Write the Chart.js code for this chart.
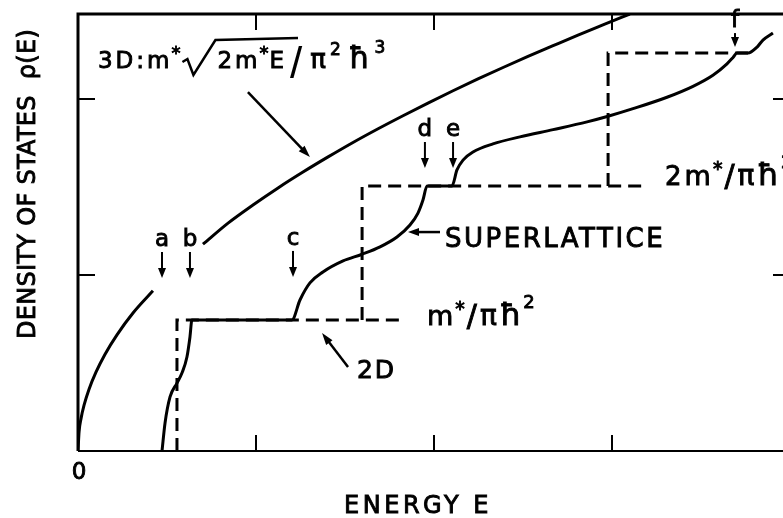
<!DOCTYPE html>
<html>
<head>
<meta charset="utf-8">
<script src="https://cdn.jsdelivr.net/npm/chart.js@4/dist/chart.umd.min.js"></script>
<style>
  html, body { margin: 0; padding: 0; background: #fff; overflow: hidden; }
  #wrap { width: 800px; height: 518px; }
</style>
</head>
<body>
<div id="wrap"><canvas id="dos" width="800" height="518"></canvas></div>
<script>
// Density of states: 3D bulk, 2D steps, superlattice
// energy in units of the axis tick spacing, density in units of the left ticks

const energyTicks = [1, 2, 3];
const densityTicks = [1, 2];

// bulk 3D curve (broken between a and b)
const bulkLowE   = [0, 0.006, 0.017, 0.034, 0.062, 0.101, 0.152, 0.219, 0.309, 0.421];
const bulkLowRho = [0, 0.109, 0.184, 0.260, 0.351, 0.448, 0.550, 0.660, 0.784, 0.910];
const bulkHighE   = [0.702, 0.843, 0.983, 1.124, 1.264, 1.405, 1.545, 1.686, 1.826, 1.966,
  2.107, 2.247, 2.388, 2.528, 2.669, 2.809, 2.949, 3.100];
const bulkHighRho = [1.175, 1.295, 1.398, 1.495, 1.585, 1.671, 1.753, 1.831, 1.905, 1.977,
  2.047, 2.114, 2.179, 2.242, 2.303, 2.363, 2.421, 2.483];

// 2D staircase, one corner per subband
const stepE   = [[0.556, 0.556, 1.826], [1.596, 1.596, 3.174], [2.978, 2.978, 3.764]];
const stepRho = [[0, 0.745, 0.745], [0.745, 1.506, 1.506], [1.506, 2.261, 2.261]];

// superlattice curve
const slE = [0.472, 0.489, 0.517, 0.556, 0.584, 0.612, 0.629, 0.640, 1.202, 1.247, 1.303, 1.376,
  1.489, 1.596, 1.697, 1.792, 1.865, 1.910, 1.938, 1.961, 2.101, 2.129, 2.163, 2.219, 2.331,
  2.483, 2.669, 2.860, 2.978, 3.118, 3.309, 3.455, 3.567, 3.646, 3.680, 3.702, 3.764, 3.815,
  3.848, 3.904];
const slRho = [0, 0.159, 0.307, 0.386, 0.443, 0.534, 0.648, 0.745, 0.745, 0.858, 0.955, 1.017,
  1.080, 1.118, 1.160, 1.216, 1.284, 1.352, 1.426, 1.506, 1.506, 1.597, 1.653, 1.699, 1.745,
  1.785, 1.826, 1.870, 1.902, 1.945, 2.010, 2.072, 2.135, 2.200, 2.236, 2.261, 2.261, 2.295,
  2.335, 2.375];

// lettered arrows: where each tip lands
const markLetters = ['a', 'b', 'c', 'd', 'e', 'f'];
const markE   = [0.472, 0.629, 1.208, 1.949, 2.107, 3.691];
const markRho = [0.983, 0.983, 0.989, 1.608, 1.608, 2.295];

const FONT = '"DejaVu Sans", sans-serif';
const pts = (xs, ys) => xs.map((v, i) => ({ x: v, y: ys[i] }));

const solid = (data) => ({
  data, borderColor: '#000', borderWidth: 3, pointRadius: 0,
  cubicInterpolationMode: 'monotone', fill: false
});
const dashed = (data) => ({
  data, borderColor: '#000', borderWidth: 3, pointRadius: 0,
  borderDash: [13, 7], tension: 0, fill: false
});

function line(ctx, x1, y1, x2, y2) {
  ctx.beginPath(); ctx.moveTo(x1, y1); ctx.lineTo(x2, y2); ctx.stroke();
}

function arrow(ctx, x1, y1, x2, y2, len = 10, half = 4) {
  const a = Math.atan2(y2 - y1, x2 - x1);
  const c = Math.cos(a), s = Math.sin(a);
  line(ctx, x1, y1, x2 - c * len * 0.6, y2 - s * len * 0.6);
  ctx.beginPath();
  ctx.moveTo(x2, y2);
  ctx.lineTo(x2 - c * len - s * half, y2 - s * len + c * half);
  ctx.lineTo(x2 - c * len + s * half, y2 - s * len - c * half);
  ctx.closePath(); ctx.fill();
}

// inked text: fill plus a thin stroke so it reads as heavy as the pen lettering
function ink(ctx, t, x, y, weight = 0.9) {
  const lw = ctx.lineWidth;
  ctx.lineWidth = weight;
  ctx.fillText(t, x, y);
  if (weight > 0) ctx.strokeText(t, x, y);
  ctx.lineWidth = lw;
}

// draws a run of text and returns where it ends
function run(ctx, t, size, x, y, spacing = 1.5, family = FONT, weight = 0.9) {
  ctx.font = `${size}px ${family}`;
  ctx.letterSpacing = spacing + 'px';
  ink(ctx, t, x, y, weight);
  return x + ctx.measureText(t).width;
}

function massOverArea(ctx, x, y, two) {
  if (two) x = run(ctx, '2', 26, x, y, 3);
  x = run(ctx, 'm', 27, x, y, 3);
  x = run(ctx, '*', 19, x - 1, y - 10, 2);
  x = run(ctx, '/', 30, x, y + 1, 3);
  x = run(ctx, 'π', 28, x, y, 3);
  x = run(ctx, 'ħ', 31, x, y, 1);
  run(ctx, '2', 18, x + 1, y - 17, 0);
}

const inkPlugin = {
  id: 'ink',
  afterDatasetsDraw(chart) {
    const { ctx, chartArea: a, scales: { x, y } } = chart;
    const px = (v) => x.getPixelForValue(v);
    const py = (v) => y.getPixelForValue(v);
    ctx.save();
    ctx.strokeStyle = '#000';
    ctx.fillStyle = '#000';
    ctx.lineCap = 'butt';

    // frame
    ctx.lineWidth = 3;
    ctx.beginPath();
    ctx.moveTo(a.left, a.bottom); ctx.lineTo(a.left, a.top);
    ctx.lineTo(a.right, a.top); ctx.lineTo(a.right, a.bottom);
    ctx.stroke();
    ctx.lineWidth = 2;
    line(ctx, a.left, a.bottom, a.right, a.bottom);

    // inward ticks on all four sides
    energyTicks.forEach(v => {
      line(ctx, px(v), a.bottom, px(v), a.bottom - 16);
      line(ctx, px(v), a.top, px(v), a.top + 16);
    });
    densityTicks.forEach(v => {
      line(ctx, a.left, py(v), a.left + 17, py(v));
      line(ctx, a.right, py(v), a.right - 17, py(v));
    });

    ctx.textBaseline = 'alphabetic';

    // origin label
    ctx.textAlign = 'center';
    ctx.font = `23px ${FONT}`;
    ink(ctx, '0', px(0) + 1, a.bottom + 28);

    // axis titles
    ctx.font = `24px ${FONT}`;
    ctx.letterSpacing = '3.5px';
    ctx.textBaseline = 'middle';
    ink(ctx, 'ENERGY E', 418, a.bottom + 56);
    ctx.save();
    ctx.translate(a.left - 49, 184);
    ctx.rotate(-Math.PI / 2);
    ctx.letterSpacing = '0.3px';
    ink(ctx, 'DENSITY OF STATES  ρ(E)', 0, 0);
    ctx.restore();
    ctx.textBaseline = 'alphabetic';

    // lettered arrows
    markLetters.forEach((t, i) => {
      const tx = px(markE[i]), ty = py(markRho[i]);
      const stem = t === 'f' ? 14 : 26;
      ctx.lineWidth = 2;
      arrow(ctx, tx, ty - stem, tx, ty, 10, 4);
      ctx.font = `23px ${FONT}`;
      ctx.letterSpacing = '0px';
      ink(ctx, t, tx, ty - stem - 6);
    });

    ctx.textAlign = 'left';

    // bulk formula  3D: m* sqrt(2m*E) / pi^2 hbar^3
    let fx = px(0.112), fy = py(2.176);
    fx = run(ctx, '3D:m', 23, fx, fy, 3);
    fx = run(ctx, '*', 18, fx - 1, fy - 9, 1);
    const rx = fx + 1;
    fx = rx + 35;
    fx = run(ctx, '2m', 23, fx, fy, 3);
    fx = run(ctx, '*', 18, fx - 1, fy - 9, 1);
    fx = run(ctx, 'E', 23, fx, fy, 0);
    ctx.lineWidth = 2.5;
    ctx.beginPath();
    ctx.moveTo(rx, fy - 6); ctx.lineTo(rx + 5, fy - 9);
    ctx.lineTo(rx + 11, fy + 7); ctx.lineTo(rx + 33, fy - 28);
    ctx.lineTo(fx + 14, fy - 30);
    ctx.stroke();
    fx = run(ctx, '/', 44, fx + 6, fy + 10, 0, '"Liberation Sans", sans-serif', 0);
    fx = run(ctx, 'π', 26, fx + 8, fy, 1);
    fx = run(ctx, '2', 17, fx + 3, fy - 13, 0);
    fx = run(ctx, 'ħ', 30, fx + 8, fy, 1);
    run(ctx, '3', 17, fx + 4, fy - 15, 0);

    // 2D plateau labels
    massOverArea(ctx, px(1.961), py(0.716), false);
    massOverArea(ctx, px(3.298), py(1.511), true);

    // pointers
    ctx.lineWidth = 2.5;
    const b3 = [px(1.303), py(1.670)];
    arrow(ctx, b3[0] - 62, b3[1] - 65, b3[0], b3[1], 12, 4);
    const p2 = [px(1.371), py(0.670)];
    arrow(ctx, p2[0] + 26, p2[1] + 34, p2[0], p2[1], 12, 4);
    const sl = [px(1.854), py(1.244)];
    arrow(ctx, sl[0] + 32, sl[1], sl[0], sl[1], 11, 4);

    run(ctx, 'SUPERLATTICE', 26, px(2.062), py(1.159), 2.5);
    run(ctx, '2D', 25, px(1.567), py(0.415), 2);

    ctx.restore();
  }
};

new Chart(document.getElementById('dos'), {
  type: 'line',
  data: {
    datasets: [
      solid(pts(bulkLowE, bulkLowRho)),
      solid(pts(bulkHighE, bulkHighRho)),
      dashed(pts(stepE[0], stepRho[0])),
      dashed(pts(stepE[1], stepRho[1])),
      dashed(pts(stepE[2], stepRho[2])),
      solid(pts(slE, slRho))
    ]
  },
  options: {
    responsive: false,
    animation: false,
    layout: { padding: { left: 78, top: 14, right: 10, bottom: 67 } },
    scales: {
      x: { type: 'linear', min: 0, max: 4, display: false },
      y: { type: 'linear', min: 0, max: 2.483, display: false }
    },
    plugins: { legend: { display: false }, tooltip: { enabled: false } }
  },
  plugins: [inkPlugin]
});
</script>
</body>
</html>
